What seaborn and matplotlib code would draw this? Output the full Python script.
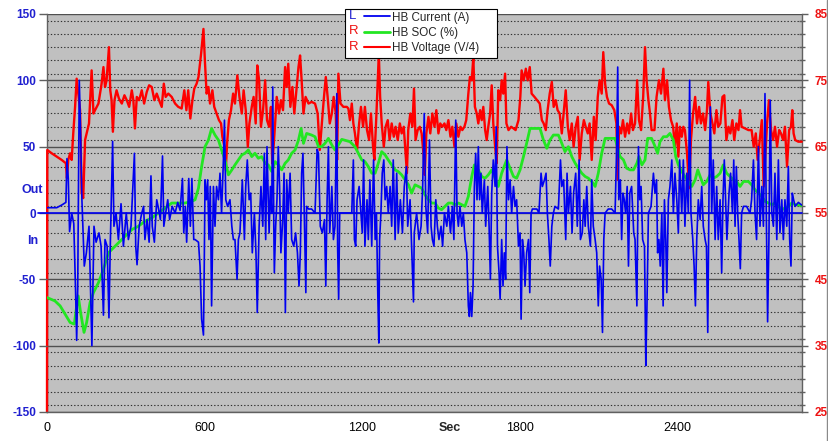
import matplotlib
matplotlib.use("Agg")
import matplotlib.pyplot as plt
import seaborn as sns
from matplotlib.lines import Line2D
from matplotlib.text import Text
from matplotlib.patches import Rectangle
from matplotlib.legend_handler import HandlerBase
from matplotlib.ticker import MultipleLocator, FixedLocator

# ---------------------------------------------------------------- data
# Hybrid battery current (A), left axis
cur_t = [0, 37, 56, 72, 76, 81, 86, 94, 102, 109, 113, 117, 123, 128, 133, 142, 150, 160, 171, 179,
         187, 198, 206, 215, 221, 229, 236, 241, 250, 255, 263, 272, 282, 291, 302, 310, 320, 333, 338, 343,
         351, 361, 368, 373, 381, 389, 396, 401, 409, 418, 425, 432, 440, 445, 452, 460, 467, 477, 488, 498,
         507, 516, 521, 527, 532, 540, 546, 552, 559, 564, 577, 583, 589, 596, 599, 602, 607, 612, 617, 622,
         627, 634, 640, 646, 653, 659, 665, 672, 676, 681, 688, 697, 704, 710, 716, 724, 729, 735, 744, 752,
         757, 763, 770, 776, 782, 790, 796, 801, 808, 815, 822, 828, 833, 838, 846, 851, 856, 860, 864, 866,
         871, 876, 881, 886, 891, 898, 903, 908, 913, 919, 926, 932, 940, 947, 954, 960, 965, 970, 975, 980,
         986, 989, 996, 1008, 1021, 1029, 1034, 1041, 1049, 1057, 1062, 1067, 1072, 1077, 1085, 1091, 1097, 1104, 1107, 1111,
         1115, 1123, 1135, 1161, 1167, 1171, 1176, 1181, 1189, 1196, 1201, 1206, 1211, 1219, 1224, 1230, 1237, 1244, 1250, 1255,
         1260, 1264, 1267, 1272, 1277, 1283, 1288, 1294, 1300, 1307, 1313, 1319, 1326, 1332, 1338, 1346, 1354, 1361, 1369, 1374,
         1383, 1389, 1396, 1399, 1408, 1417, 1425, 1431, 1437, 1443, 1450, 1457, 1463, 1468, 1474, 1481, 1487, 1493, 1501, 1507,
         1514, 1523, 1529, 1537, 1544, 1550, 1557, 1562, 1567, 1573, 1580, 1586, 1592, 1599, 1605, 1609, 1613, 1618, 1623, 1628,
         1633, 1638, 1643, 1648, 1653, 1658, 1666, 1671, 1679, 1684, 1689, 1694, 1700, 1707, 1711, 1716, 1722, 1726, 1732, 1737,
         1742, 1747, 1752, 1758, 1764, 1770, 1777, 1783, 1789, 1796, 1802, 1806, 1811, 1816, 1821, 1827, 1834, 1839, 1844, 1849,
         1866, 1874, 1882, 1887, 1895, 1901, 1906, 1912, 1917, 1923, 1929, 1935, 1948, 1956, 1961, 1968, 1976, 1981, 1986, 1994,
         2000, 2006, 2014, 2020, 2027, 2032, 2039, 2045, 2050, 2056, 2062, 2070, 2075, 2081, 2088, 2094, 2100, 2105, 2111, 2116,
         2121, 2126, 2138, 2151, 2164, 2170, 2174, 2178, 2184, 2189, 2194, 2199, 2204, 2210, 2215, 2220, 2227, 2235, 2240, 2247,
         2253, 2258, 2263, 2269, 2276, 2281, 2285, 2291, 2301, 2310, 2316, 2322, 2326, 2331, 2336, 2342, 2347, 2352, 2357, 2361,
         2367, 2373, 2380, 2386, 2392, 2399, 2405, 2410, 2418, 2424, 2430, 2437, 2443, 2448, 2453, 2460, 2465, 2470, 2475, 2481,
         2488, 2494, 2500, 2507, 2512, 2517, 2522, 2527, 2532, 2538, 2545, 2551, 2557, 2564, 2570, 2575, 2580, 2585, 2590, 2598,
         2604, 2611, 2616, 2621, 2626, 2631, 2636, 2641, 2646, 2653, 2665, 2678, 2684, 2691, 2697, 2703, 2710, 2716, 2723, 2729,
         2735, 2740, 2745, 2750, 2755, 2761, 2767, 2773, 2780, 2786, 2792, 2799, 2805, 2811, 2818, 2824, 2829, 2834, 2839, 2844,
         2850, 2862, 2875]
cur_a = [4, 4, 6, 8, 41, 26, -14, 0, -8, -60, -96, -57, 100, 60, 10, -40, -30, -10, -100, -10,
         -22, -15, -25, -77, -20, -25, -79, -25, 54, -10, 0, -20, 7, -25, 0, -20, -10, 45, -25, -39,
         -10, 0, 5, -20, -5, -22, 28, -10, -22, 10, 3, -5, 43, -10, 0, 10, -5, 5, 0, 8,
         2, 26, -15, 5, -22, 26, -10, 26, -20, -20, -22, -40, -80, -92, -40, 25, 10, 25, -20, 20,
         -70, 20, -10, 20, 10, 30, 0, 40, 70, 10, 5, 10, -10, -20, -20, -50, -20, -15, 25, -20,
         20, 40, 10, 15, -30, 0, -30, -75, -10, 20, -10, 45, -20, 50, -15, 20, 0, 95, -10, -45,
         -10, 10, 50, 20, -30, -5, 30, -75, 25, 0, 30, -20, -25, -15, -30, -55, -30, 30, 45, 0,
         -60, 5, 3, 3, 0, 48, 45, -10, -15, -5, -55, 10, 50, -15, 20, -20, -10, 90, -25, -65,
         0, 0, 0, 0, 40, -20, -25, 10, 20, 0, -15, 40, -25, 10, -20, 25, -25, 40, -20, 0,
         -60, -98, -20, 0, 30, 40, 10, 20, 0, 20, -10, 40, -20, 30, -15, 10, -15, 20, 35, -10,
         10, -25, -67, -15, 0, -20, -10, 20, 75, 5, -15, 55, -10, -20, -25, 10, -10, -20, -10, -25,
         0, -10, 5, -15, 5, -20, 70, 0, -10, 5, -10, 0, -20, -30, -70, -78, -60, -78, -55, 20,
         45, 10, 50, 10, 30, 0, 25, -10, 20, -10, -50, 15, 40, 20, 65, -25, -45, -65, -20, -55,
         -30, -50, 50, 10, 25, 0, 20, 5, 10, -25, -15, -80, -20, -30, -55, -30, -20, -60, 0, 3,
         3, 0, 30, 20, 25, 30, 0, -20, -40, -10, 0, 5, 3, 40, 20, 25, -20, 30, 0, 20,
         -15, 15, 30, -10, 40, -20, -15, 10, -10, 20, -10, -25, 25, -10, -20, -30, -70, -40, -50, -90,
         -20, 0, 3, 3, 0, 50, 110, 10, 25, -20, 15, 10, 0, 20, -40, 15, 20, -15, -20, -70,
         50, 10, 20, -20, -25, -115, -75, 0, 5, 30, 15, 25, -30, -20, -40, 0, -70, 10, -20, -60,
         10, 20, 40, 0, 30, 10, -15, 40, 0, 40, -10, 30, 0, 100, 0, -20, -40, -70, -20, 10,
         -5, 20, -10, -20, -25, -90, 20, 80, 0, 40, -20, 20, -20, 10, -45, 10, 40, 10, -20, 15,
         30, 0, 40, -10, 35, 0, -20, -42, 0, 5, 5, 0, 10, 40, 0, -20, 50, -10, 20, -10,
         90, 0, -82, -20, 85, 0, -10, 30, -20, 40, -15, 10, -20, 10, -10, 35, -20, -40, 15, 10,
         5, 8, 6]

# State of charge (%), right axis
soc_t = [0, 30, 50, 69, 88, 104, 113, 119, 128, 141, 151, 164, 177, 196, 215, 234, 253, 272, 297, 323,
         348, 373, 399, 424, 450, 475, 500, 526, 551, 564, 577, 589, 602, 615, 627, 640, 653, 665, 678, 691,
         704, 716, 729, 742, 754, 767, 780, 792, 805, 818, 831, 843, 856, 869, 881, 894, 907, 919, 932, 945,
         958, 968, 977, 989, 1008, 1021, 1034, 1046, 1059, 1072, 1085, 1097, 1110, 1123, 1154, 1173, 1186, 1199, 1211, 1224,
         1237, 1250, 1262, 1275, 1288, 1300, 1313, 1326, 1338, 1351, 1364, 1377, 1389, 1402, 1415, 1427, 1440, 1453, 1465, 1478,
         1491, 1503, 1516, 1529, 1542, 1554, 1567, 1580, 1592, 1605, 1618, 1628, 1643, 1656, 1669, 1681, 1694, 1707, 1719, 1732,
         1751, 1764, 1777, 1789, 1802, 1815, 1827, 1840, 1859, 1878, 1891, 1904, 1916, 1929, 1948, 1961, 1973, 1986, 1999, 2012,
         2024, 2037, 2050, 2062, 2075, 2088, 2100, 2113, 2126, 2145, 2164, 2183, 2196, 2208, 2221, 2234, 2247, 2255, 2266, 2278,
         2288, 2303, 2314, 2326, 2335, 2348, 2361, 2373, 2386, 2395, 2405, 2418, 2430, 2443, 2456, 2469, 2479, 2488, 2500, 2513,
         2526, 2538, 2551, 2564, 2576, 2589, 2602, 2615, 2627, 2640, 2653, 2672, 2684, 2697, 2710, 2723, 2735, 2748, 2761, 2773,
         2786, 2799, 2811, 2824, 2837, 2850, 2862, 2875]
soc_pct = [42.25, 41.75, 41, 39.75, 38.5, 38.25, 41, 42.5, 40, 37, 38.5, 41.5, 43, 44.5, 46.5, 49, 49.75, 50.5, 51.5, 52.5,
           53, 53.75, 54.25, 55, 55.75, 56.5, 56.5, 56.5, 56.75, 57, 58.75, 62, 65, 66, 67.75, 66.75, 66, 64.5, 63, 60.75,
           61.5, 62.25, 63, 63.75, 64, 64.5, 63.5, 64, 63.25, 63.5, 62.5, 62.25, 61.25, 62.75, 62.25, 61.5, 62.5, 63, 64, 64.5,
           66, 67.75, 65.5, 67, 66.75, 66.5, 65, 65, 65.5, 66.25, 65.25, 64.5, 65.25, 66.1, 65.75, 65, 64, 63, 62.75, 62,
           61, 61, 62.5, 64.25, 63.75, 63, 62.25, 61.5, 61.25, 60.75, 60, 59.25, 58, 59.25, 59, 58.75, 57.75, 57, 56.5, 56.5,
           55.75, 55.5, 56, 56.5, 56.5, 56.25, 56.5, 56.25, 56, 57.5, 60.5, 62.25, 61.5, 60.5, 60.25, 60.75, 61.5, 60.25, 59, 61,
           63, 61.75, 60.5, 60.25, 61.5, 63.5, 65.5, 67.75, 67.75, 67.75, 66, 64.75, 66, 66.75, 66.75, 65.5, 64.25, 65, 63.5, 62.5,
           61.75, 61, 60.5, 60.25, 59.75, 59, 61, 64, 66.25, 66.25, 66.25, 63.5, 63, 61.75, 61.5, 61.5, 62.5, 63.5, 62.25, 63,
           66.25, 66.25, 65.25, 64, 65.75, 66.5, 66.5, 67, 66, 63.5, 62.25, 61.25, 60.5, 59.75, 59, 60, 61.5, 60.5, 59.25, 59.75,
           60.75, 60.25, 60.5, 61, 62.25, 61, 60.5, 60, 59.75, 59, 59.75, 59.75, 59.25, 58.5, 58, 57.5, 56.75, 56.5, 56.25, 56.5,
           56, 55.5, 55.75, 56, 56.5, 56.25, 56.25, 56.1]

# Pack voltage divided by 4 (V/4), right axis
volt_t = [0, 1, 18, 37, 56, 72, 76, 81, 88, 94, 100, 107, 113, 119, 126, 132, 138, 145, 151, 160,
          170, 177, 183, 196, 208, 215, 221, 227, 236, 241, 246, 251, 257, 265, 274, 285, 295, 304, 313, 323,
          329, 335, 342, 351, 361, 370, 380, 389, 399, 409, 418, 427, 437, 445, 452, 462, 475, 488, 500, 513,
          523, 531, 538, 546, 554, 561, 570, 577, 587, 596, 602, 608, 615, 621, 630, 637, 646, 655, 663, 668,
          676, 681, 686, 693, 701, 709, 716, 725, 733, 742, 749, 757, 765, 771, 780, 787, 795, 801, 808, 815,
          823, 831, 838, 846, 853, 858, 864, 869, 875, 884, 891, 899, 907, 913, 919, 927, 935, 942, 950, 958,
          964, 970, 977, 985, 996, 1008, 1021, 1031, 1039, 1046, 1054, 1062, 1069, 1077, 1085, 1092, 1100, 1105, 1110, 1118,
          1129, 1142, 1148, 1154, 1161, 1167, 1173, 1181, 1189, 1196, 1204, 1211, 1219, 1227, 1234, 1242, 1247, 1255, 1260, 1264,
          1269, 1275, 1283, 1290, 1298, 1305, 1313, 1321, 1328, 1336, 1344, 1351, 1359, 1366, 1371, 1376, 1384, 1392, 1398, 1404,
          1412, 1420, 1427, 1434, 1439, 1445, 1453, 1460, 1468, 1476, 1483, 1491, 1498, 1506, 1514, 1521, 1529, 1537, 1544, 1552,
          1559, 1567, 1575, 1582, 1590, 1597, 1605, 1611, 1618, 1624, 1630, 1637, 1643, 1650, 1656, 1662, 1669, 1675, 1681, 1688,
          1694, 1700, 1707, 1713, 1719, 1726, 1732, 1738, 1745, 1750, 1758, 1768, 1777, 1785, 1796, 1803, 1808, 1816, 1824, 1831,
          1839, 1846, 1857, 1867, 1877, 1885, 1892, 1900, 1907, 1915, 1923, 1930, 1938, 1945, 1953, 1961, 1968, 1976, 1984, 1991,
          1999, 2006, 2014, 2022, 2029, 2037, 2045, 2052, 2060, 2067, 2075, 2083, 2090, 2098, 2105, 2113, 2119, 2126, 2133, 2141,
          2151, 2161, 2169, 2174, 2179, 2187, 2194, 2202, 2210, 2217, 2225, 2232, 2240, 2248, 2255, 2263, 2271, 2278, 2284, 2291,
          2297, 2303, 2314, 2322, 2331, 2339, 2348, 2354, 2362, 2369, 2377, 2385, 2392, 2399, 2405, 2411, 2418, 2424, 2430, 2438,
          2446, 2453, 2461, 2469, 2476, 2484, 2491, 2499, 2507, 2514, 2519, 2527, 2535, 2542, 2550, 2557, 2565, 2573, 2580, 2588,
          2596, 2603, 2611, 2618, 2626, 2634, 2640, 2646, 2659, 2672, 2684, 2692, 2700, 2707, 2715, 2723, 2730, 2738, 2743, 2750,
          2758, 2766, 2773, 2781, 2789, 2796, 2804, 2811, 2819, 2827, 2834, 2839, 2844, 2850, 2862, 2875]
volt_v4 = [25, 64.5, 64, 63.5, 63, 62.5, 60.25, 63, 64, 63, 67, 71, 75.25, 73, 70.5, 58, 57.25, 66, 67, 68.5,
           76.5, 70, 70.5, 71.5, 74.5, 77, 74, 75, 80, 73.5, 72, 67.25, 72, 73.5, 72.25, 71.5, 72.75, 72, 71, 73.5,
           72, 67.75, 72.5, 72, 73.5, 71.5, 73.25, 74.25, 74, 72, 73, 72, 71, 74.5, 72.5, 73, 72.5, 71.5, 71, 70.75,
           73.5, 70.5, 73.5, 69.25, 72, 73.75, 74.5, 75.5, 79, 82.75, 77.5, 73, 74, 71.5, 73.5, 71, 70, 69, 68.5, 66.5,
           65, 61.5, 65.5, 69, 70.5, 73, 71.5, 75.75, 72.5, 70, 73.5, 70.5, 65, 68.5, 71, 72.5, 68.5, 77.25, 75, 68,
           70.5, 75, 69, 68, 71, 62.5, 65.5, 68.5, 72.5, 70, 72, 70.5, 77, 74, 77.5, 71, 74, 70, 73.5, 77,
           78.75, 75, 70, 72.5, 71.5, 71.75, 71.5, 70, 64.5, 68, 72, 75.5, 72.5, 68.5, 70, 72.5, 70, 63, 76, 71.5,
           71, 71, 70.75, 69, 71.5, 68.5, 67, 64.5, 68.5, 71, 68, 71, 67.5, 66, 70, 65, 63, 70, 75, 79,
           72.5, 68.5, 65, 68, 69, 66, 68.5, 66.5, 68, 66, 68.5, 67, 68, 64, 61, 67.5, 70, 68, 73.75, 66,
           67.5, 68, 67, 64, 60.75, 67, 69.5, 67, 70, 68, 70.5, 67, 68.5, 68, 68.5, 67.5, 69, 66.5, 68, 65,
           68.5, 66.5, 68, 67.5, 68, 69, 73, 75.5, 75, 78.5, 71, 70, 68.5, 70.5, 69, 71, 67.5, 66, 68, 70,
           74.25, 68.5, 65, 62.5, 73.5, 72, 75, 73, 76, 68.5, 67.5, 68, 67.75, 67.5, 69, 72.5, 76.5, 75, 76.75, 75,
           77, 73, 72.5, 72, 71.5, 69, 68.5, 67.5, 70.5, 73, 74.75, 71, 72, 70.5, 70, 67, 70, 73.5, 68, 66,
           68.5, 65, 68, 69.5, 63, 67, 69, 68, 67, 68.5, 63, 69.5, 66, 72.5, 75, 73, 79.25, 74.5, 72.5, 71.5,
           71.25, 70.5, 68.5, 60, 68, 67, 69, 66.5, 68.5, 67, 70, 67.5, 68.5, 75, 69, 67.5, 72.5, 80, 75, 72,
           70, 67.5, 67.5, 72.5, 75, 73, 76.75, 72, 75, 71, 69, 68, 65, 68.5, 63.5, 68, 66.5, 68, 67.5, 64,
           58.75, 66, 70, 72.5, 68.5, 71, 68.5, 70, 67.5, 70.5, 74.75, 70, 68.5, 67, 70.5, 68, 68.5, 72.5, 72.75, 66,
           68, 67, 69, 66, 68.5, 67.5, 70.5, 68, 67.75, 67.5, 67.5, 65, 67, 63, 66, 69, 59, 65, 68.5, 72,
           67.5, 66, 68, 65, 67.5, 67, 66, 68, 62, 67.5, 68, 70.5, 67, 66, 65.75, 65.75]

series_names = ["HB Current (A)", "HB SOC (%)", "HB Voltage (V/4)"]
series_axis = ["L", "R", "R"]

x_ticks = [0, 600, 1200, 1800, 2400]
left_ticks = [-150, -100, -50, 0, 50, 100, 150]
right_ticks = [25, 35, 45, 55, 65, 75, 85]

# ---------------------------------------------------------------- style
BLUE = "#0000F0"
GREEN = "#22E622"
RED = "#FF0000"
LBL_BLUE = "#1F1FD0"
LBL_RED = "#EE1111"
SPINE = "#606060"

sns.set_style("white")
plt.rcParams["font.family"] = ["Liberation Sans", "DejaVu Sans"]
plt.rcParams["axes.unicode_minus"] = False

fig = plt.figure(figsize=(8.29, 4.41), dpi=100)
fig.patch.set_facecolor("white")

L, R, T, B = 47, 802, 14, 412
W, H = 829, 441
ax = fig.add_axes([L / W, 1 - B / H, (R - L) / W, (B - T) / H])
ax2 = ax.twinx()

# the secondary axes carries the grey plot area and the grid; current is drawn on top
ax.set_zorder(ax2.get_zorder() + 1)
ax.patch.set_visible(False)
ax2.patch.set_visible(True)
ax2.set_facecolor("#C0C0C0")

sns.lineplot(x=volt_t, y=volt_v4, ax=ax2, color=RED, lw=1.7, estimator=None, sort=False,
             zorder=3, clip_on=False)
sns.lineplot(x=soc_t, y=soc_pct, ax=ax2, color=GREEN, lw=2.0, estimator=None, sort=False, zorder=3.1)
sns.lineplot(x=cur_t, y=cur_a, ax=ax, color=BLUE, lw=1.2, estimator=None, sort=False)

# zero line of the current axis, running a little past the left spine
ax.axhline(0, xmin=-0.012, xmax=1, color=BLUE, lw=1.2, clip_on=False, zorder=1.5)

# x axis
ax.set_xlim(0, 2876)
ax.xaxis.set_major_locator(FixedLocator(x_ticks))
ax.xaxis.set_minor_locator(MultipleLocator(60))
ax.set_xticklabels([str(v) for v in x_ticks], fontsize=9, color="black")
ax.tick_params(axis="x", which="major", direction="inout", length=8, width=1, color=SPINE, pad=3)
ax.tick_params(axis="x", which="minor", direction="out", length=4, width=1, color=SPINE)
ax.set_xlabel("")
ax.set_ylabel("")

# left axis (current)
ax.set_ylim(-150, 150)
ax.set_yticks(left_ticks)
ax.set_yticklabels([str(v) for v in left_ticks], fontsize=8.5, fontweight="bold", color=LBL_BLUE)
ax.tick_params(axis="y", which="major", direction="out", length=6, width=1, color=SPINE, pad=2)

# right axis (SOC / voltage)
ax2.set_ylim(25, 85)
ax2.set_yticks(right_ticks)
ax2.yaxis.set_minor_locator(MultipleLocator(2))
ax2.set_yticklabels([str(v) for v in right_ticks], fontsize=8.5, fontweight="bold", color=LBL_RED)
ax2.tick_params(axis="y", which="major", direction="out", length=4, width=1, color=SPINE, pad=5)
ax2.tick_params(axis="y", which="minor", direction="inout", length=4, width=1, color=SPINE)
ax2.set_ylabel("")

ax2.set_axisbelow(True)
ax2.yaxis.grid(True, which="major", color="#505050", lw=1.0, ls="-")
ax2.yaxis.grid(True, which="minor", color="#303030", lw=0.8, ls=(0, (1.2, 1.8)))
ax2.xaxis.grid(False)
ax.grid(False)

# left and right axis lines live on the back axes so the voltage trace can cover them
for s in ("top", "right", "left"):
    ax.spines[s].set_visible(False)
ax.spines["bottom"].set_color(SPINE)
ax.spines["bottom"].set_linewidth(1)
for s in ("top", "bottom"):
    ax2.spines[s].set_visible(False)
for s in ("left", "right"):
    ax2.spines[s].set_visible(True)
    ax2.spines[s].set_color(SPINE)
    ax2.spines[s].set_linewidth(1)
    ax2.spines[s].set_zorder(2.5)

# direction hints beside the current axis
ytr = ax.get_yaxis_transform()
ax.text(-0.02, 17, "Out", transform=ytr, ha="center", va="center",
        fontsize=9, fontweight="bold", color=LBL_BLUE, clip_on=False)
ax.text(-0.019, -21, "In", transform=ytr, ha="center", va="center",
        fontsize=9, fontweight="bold", color=LBL_BLUE, clip_on=False)

fig.text(450 / W, 1 - 428 / H, "Sec", ha="center", va="center", fontsize=9, fontweight="bold")


# legend entries carry the axis letter in front of the line sample
class AxisTagHandler(HandlerBase):
    def __init__(self, tag, color):
        super().__init__()
        self.tag = tag
        self.color = color

    def create_artists(self, legend, orig_handle, xdescent, ydescent, width, height, fontsize, trans):
        y = height / 2 - ydescent
        x0 = -xdescent
        line = Line2D([x0 + width * 0.38, x0 + width], [y, y], color=orig_handle.get_color(),
                      lw=orig_handle.get_linewidth(), transform=trans)
        txt = Text(x0 + width * 0.02, y + 0.5, self.tag, color=self.color, fontsize=fontsize * 1.12,
                   ha="left", va="center", transform=trans, family=["Liberation Sans", "DejaVu Sans"])
        return [line, txt]


handles = [Line2D([], [], color=BLUE, lw=1.3),
           Line2D([], [], color=GREEN, lw=2.0),
           Line2D([], [], color=RED, lw=1.5)]
tag_colors = [LBL_BLUE if a == "L" else LBL_RED for a in series_axis]
hmap = {h: AxisTagHandler(a, c) for h, a, c in zip(handles, series_axis, tag_colors)}

fig.add_artist(Rectangle((345 / W, 1 - 58 / H), (497 - 345) / W, (58 - 9) / H, transform=fig.transFigure,
                         facecolor="white", edgecolor="black", lw=0.8, zorder=4.9))
leg = fig.legend(handles, series_names, handler_map=hmap, loc="upper left",
                 bbox_to_anchor=(345 / W, 1 - 8 / H), bbox_transform=fig.transFigure,
                 fontsize=8.4, frameon=False, borderpad=0.3, handlelength=3.6, handletextpad=0.15,
                 labelspacing=0.3, borderaxespad=0)
leg.set_zorder(5)

# outer chart border on the right edge
fig.add_artist(Line2D([827.5 / W, 827.5 / W], [0, 1], transform=fig.transFigure, color="#8a8a8a", lw=1))

fig.savefig("out.png", dpi=100, facecolor="white")
